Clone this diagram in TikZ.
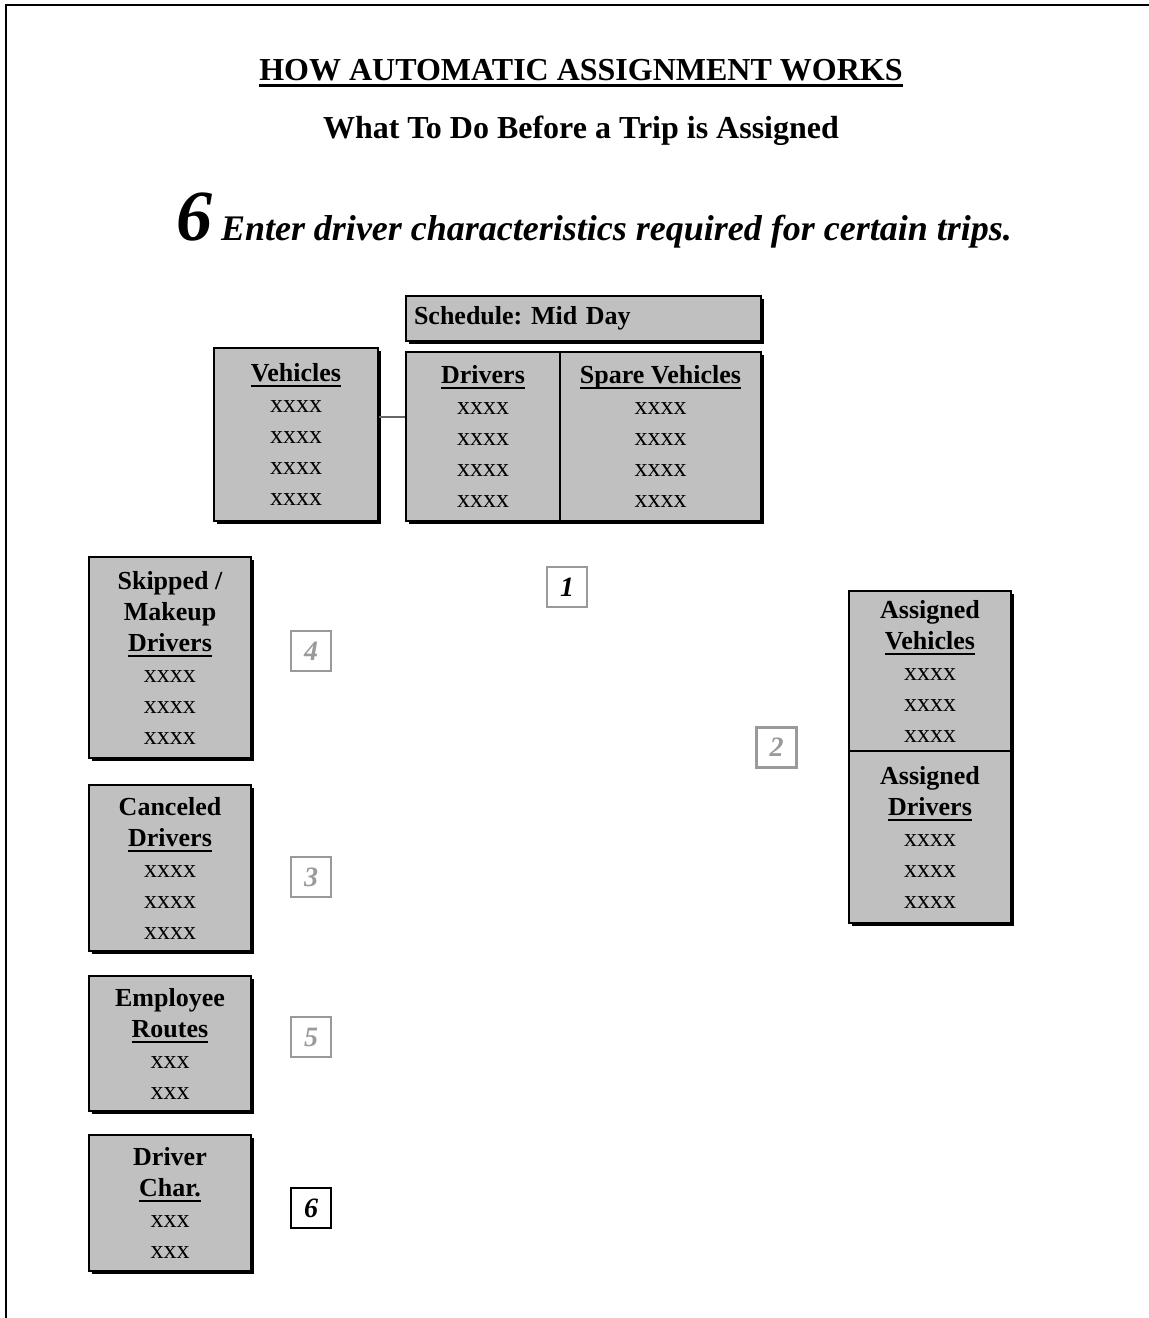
\documentclass[tikz,border=0pt]{standalone}
\usepackage{fontspec}
\setmainfont{Liberation Serif}
\usepackage{tikz}
\usetikzlibrary{shadows}
\definecolor{panelgray}{HTML}{C0C0C0}
\definecolor{stepgray}{HTML}{9A9A9A}
\newcommand{\hdr}[1]{\begingroup\setbox0\hbox{\bfseries #1}\rlap{\rule[-0.22em]{\wd0}{0.08em}}\box0\endgroup}
\frenchspacing

\begin{document}
\begin{tikzpicture}[x=0.5pt, y=-0.5pt,
    panel/.style={draw, line width=1pt, fill=panelgray, inner sep=0pt, align=center,
      anchor=north west, font=\fontsize{13}{15.5}\selectfont,
      drop shadow={shadow xshift=1.6pt, shadow yshift=-1.6pt, fill=black, opacity=1}},
    stepbox/.style={draw=stepgray, line width=1.1pt, fill=white, minimum size=20pt,
      inner sep=0pt, text=stepgray, font=\fontsize{14}{17}\selectfont\bfseries\itshape},
    link/.style={draw=black!60, line width=0.6pt}]
  \useasboundingbox (0,0) rectangle (1149,1318);
  \draw[line width=1.3pt] (6,1318) -- (6,5) -- (1149,5);

  \node[anchor=base, font=\fontsize{16}{19}\selectfont] (title) at (581,80) {\hdr{HOW AUTOMATIC ASSIGNMENT WORKS}};
  \node[anchor=base, font=\fontsize{16}{19}\selectfont\bfseries] (subtitle) at (581,138) {What To Do Before a Trip is Assigned};
  \node[anchor=base, font=\bfseries\itshape] (stepline) at (594,240)
    {{\fontsize{36}{40}\selectfont 6}\fontsize{18}{22}\selectfont{} Enter driver characteristics required for certain trips.};

  % schedule and its lists
  \node[panel, align=left, text width=169.5pt, minimum width=177.5pt, minimum height=22.5pt] (sched) at (405,295) {\bfseries Schedule: Mid Day};
  \node[panel, minimum width=82pt, minimum height=86.5pt] (veh) at (213,347)
    {\hdr{Vehicles}\\xxxx\\xxxx\\xxxx\\xxxx};
  \node[panel, minimum width=77pt, minimum height=84.5pt] (drv) at (405,351)
    {\hdr{Drivers}\\xxxx\\xxxx\\xxxx\\xxxx};
  \node[panel, minimum width=100.5pt, minimum height=84.5pt] (spare) at (559,351)
    {\hdr{Spare Vehicles}\\xxxx\\xxxx\\xxxx\\xxxx};
  \draw[link] ([yshift=8.75pt]veh.east) -- ([yshift=8.75pt]veh.east -| drv.west);

  % left column
  \node[panel, minimum width=81pt, minimum height=100.5pt] (skip) at (88,556)
    {\bfseries Skipped /\\\bfseries Makeup\\\hdr{Drivers}\\xxxx\\xxxx\\xxxx};
  \node[panel, minimum width=81pt, minimum height=83pt] (cancel) at (88,784)
    {\bfseries Canceled\\\hdr{Drivers}\\xxxx\\xxxx\\xxxx};
  \node[panel, minimum width=81pt, minimum height=67.5pt] (routes) at (88,975)
    {\bfseries Employee\\\hdr{Routes}\\xxx\\xxx};
  \node[panel, minimum width=81pt, minimum height=68pt] (dchar) at (88,1134)
    {\bfseries Driver\\\hdr{Char.}\\xxx\\xxx};

  % right column
  \node[panel, minimum width=81pt, minimum height=80pt] (asveh) at (848,590)
    {\bfseries Assigned\\\hdr{Vehicles}\\xxxx\\xxxx\\xxxx};
  \node[panel, minimum width=81pt, minimum height=86pt] (asdrv) at (848,750)
    {\bfseries Assigned\\\hdr{Drivers}\\xxxx\\xxxx\\xxxx};

  % step numbers
  \node[stepbox, text=black] (n1) at (567,587) {1};
  \node[stepbox] (n2) at (776.5,747.5) {2};
  \node[stepbox] (n3) at (311,877) {3};
  \node[stepbox] (n4) at (311,651) {4};
  \node[stepbox] (n5) at (311,1037) {5};
  \node[stepbox, draw=black, text=black] (n6) at (311,1208) {6};
\end{tikzpicture}
\end{document}
